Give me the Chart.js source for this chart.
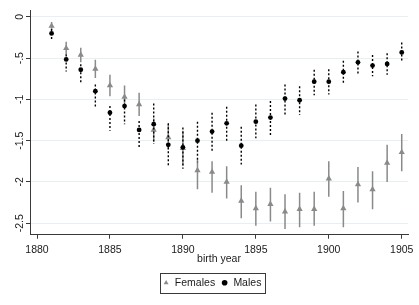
<!DOCTYPE html>
<html>
<head>
<meta charset="utf-8">
<script src="https://cdn.jsdelivr.net/npm/chart.js@4/dist/chart.umd.min.js"></script>
<style>
html,body{margin:0;padding:0;background:#fff;}
#wrap{width:419px;height:305px;}
</style>
</head>
<body>
<div id="wrap"><canvas id="c" width="419" height="305"></canvas></div>
<script>
// ---- data ----
const years = [1881,1882,1883,1884,1885,1886,1887,1888,1889,1890,1891,1892,1893,1894,1895,1896,1897,1898,1899,1900,1901,1902,1903,1904,1905];

const females   = [-0.11,-0.38,-0.46,-0.63,-0.83,-0.97,-1.06,-1.37,-1.46,-1.59,-1.86,-1.88,-2.00,-2.23,-2.32,-2.27,-2.36,-2.33,-2.33,-1.96,-2.32,-2.03,-2.09,-1.77,-1.64];
const femalesHi = [-0.06,-0.30,-0.375,-0.52,-0.70,-0.83,-0.92,-1.23,-1.30,-1.38,-1.73,-1.75,-1.81,-2.04,-2.12,-2.07,-2.15,-2.13,-2.12,-1.75,-2.11,-1.82,-1.87,-1.55,-1.42];
const femalesLo = [-0.16,-0.46,-0.55,-0.74,-0.96,-1.11,-1.20,-1.51,-1.61,-1.80,-2.09,-2.13,-2.20,-2.44,-2.53,-2.48,-2.57,-2.55,-2.53,-2.18,-2.55,-2.25,-2.33,-2.00,-1.87];

const males   = [-0.20,-0.515,-0.64,-0.90,-1.16,-1.08,-1.37,-1.30,-1.55,-1.58,-1.50,-1.39,-1.29,-1.56,-1.27,-1.22,-0.99,-1.01,-0.785,-0.785,-0.67,-0.55,-0.59,-0.57,-0.43];
const malesHi = [-0.145,-0.455,-0.575,-0.82,-1.08,-1.00,-1.26,-1.05,-1.29,-1.34,-1.27,-1.16,-1.09,-1.33,-1.06,-1.02,-0.82,-0.84,-0.64,-0.635,-0.53,-0.42,-0.46,-0.44,-0.31];
const malesLo = [-0.28,-0.66,-0.805,-1.09,-1.38,-1.30,-1.60,-1.54,-1.81,-1.84,-1.76,-1.64,-1.51,-1.79,-1.47,-1.43,-1.19,-1.19,-0.95,-0.94,-0.81,-0.70,-0.72,-0.70,-0.55];

const xTicks = [1880,1885,1890,1895,1900,1905];
const yTicks = [0,-0.5,-1,-1.5,-2,-2.5];
const yTickLabels = ['0','-.5','-1','-1.5','-2','-2.5'];
const seriesNames = ['Females','Males'];
const xTitle = 'birth year';

// ---- styles ----
const FONT = "'Liberation Sans', Arial, sans-serif";
const TEXT = '#1a1a1a';
const AXIS = '#3a3a3a';
const GRID = '#e6eff1';
const FEM = '#8a8a8a';
const MAL = '#000000';

const toPts = (vals) => years.map((yr, i) => ({x: yr, y: vals[i]}));

const errorBars = {
  id: 'errorBars',
  beforeDatasetDraw(chart, args) {
    const ds = chart.data.datasets[args.index];
    if (!ds.ciLo) return;
    const {ctx} = chart;
    const xs = chart.scales.x, ys = chart.scales.y;
    ctx.save();
    ctx.strokeStyle = ds.ciColor;
    ctx.lineWidth = ds.ciWidth;
    ctx.setLineDash(ds.ciDash);
    ctx.beginPath();
    years.forEach((yr, i) => {
      const px = xs.getPixelForValue(yr);
      ctx.moveTo(px, ys.getPixelForValue(ds.ciHi[i]));
      ctx.lineTo(px, ys.getPixelForValue(ds.ciLo[i]));
    });
    ctx.stroke();
    ctx.restore();
  }
};

const yLabels = {
  id: 'yLabels',
  afterDraw(chart) {
    const {ctx} = chart;
    const ys = chart.scales.y;
    ctx.save();
    ctx.font = "10.5px " + FONT;
    ctx.fillStyle = TEXT;
    ctx.textAlign = 'center';
    ctx.textBaseline = 'middle';
    yTicks.forEach((v, i) => {
      const py = ys.getPixelForValue(v);
      ctx.save();
      ctx.translate(20, py);
      ctx.rotate(-Math.PI / 2);
      ctx.fillText(yTickLabels[i], 0, 0);
      ctx.restore();
    });
    ctx.restore();
  }
};

const legendBox = {
  id: 'legendBox',
  afterDraw(chart) {
    const hb = chart.legend && chart.legend.legendHitBoxes;
    if (!hb || !hb.length) return;
    let left = Infinity, right = -Infinity;
    hb.forEach(h => { left = Math.min(left, h.left); right = Math.max(right, h.left + h.width); });
    left -= 3; right += 3;
    const top = hb[0].top - 4.5;
    const bottom = hb[0].top + hb[0].height + 4.5;
    const {ctx} = chart;
    ctx.save();
    ctx.strokeStyle = AXIS;
    ctx.lineWidth = 1;
    ctx.strokeRect(Math.round(left) + 0.5, Math.round(top) + 0.5, Math.round(right - left), Math.round(bottom - top));
    ctx.restore();
  }
};

new Chart(document.getElementById('c'), {
  type: 'scatter',
  data: {
    datasets: [
      {
        label: seriesNames[0],
        data: toPts(females),
        ciHi: femalesHi, ciLo: femalesLo,
        ciColor: FEM, ciWidth: 1.5, ciDash: [],
        pointStyle: 'triangle',
        pointRadius: 3.6,
        backgroundColor: FEM,
        borderColor: FEM,
        borderWidth: 0,
        order: 1
      },
      {
        label: seriesNames[1],
        data: toPts(males),
        ciHi: malesHi, ciLo: malesLo,
        ciColor: MAL, ciWidth: 1.4, ciDash: [2, 2],
        pointStyle: 'circle',
        pointRadius: 2.4,
        backgroundColor: MAL,
        borderColor: MAL,
        borderWidth: 0,
        order: 0
      }
    ]
  },
  options: {
    responsive: false,
    devicePixelRatio: 1,
    animation: false,
    events: [],
    layout: { padding: { left: 16, right: 11, top: 10, bottom: 7 } },
    plugins: {
      tooltip: { enabled: false },
      legend: {
        position: 'bottom',
        align: 'center',
        labels: {
          usePointStyle: true,
          boxWidth: 7,
          boxHeight: 4,
          padding: 6,
          color: TEXT,
          font: { family: FONT, size: 10.5 },
          sort: (a, b) => a.datasetIndex - b.datasetIndex
        }
      }
    },
    scales: {
      x: {
        type: 'linear',
        min: 1879.52,
        max: 1905.43,
        afterBuildTicks: (s) => { s.ticks = xTicks.map(v => ({value: v})); },
        afterFit: (s) => { s.height = 36.75; },
        ticks: {
          color: TEXT,
          padding: 5,
          maxRotation: 0,
          font: { family: FONT, size: 10.5 },
          callback: (v) => String(v)
        },
        grid: {
          display: true,
          drawOnChartArea: false,
          drawTicks: true,
          tickLength: 4,
          tickColor: AXIS,
          tickWidth: 1
        },
        border: { display: true, color: AXIS, width: 1 },
        title: {
          display: true,
          text: xTitle,
          color: TEXT,
          font: { family: FONT, size: 10.5 },
          padding: { top: 0, bottom: 6.5 }
        }
      },
      y: {
        type: 'linear',
        min: -2.64,
        max: 0.084,
        afterBuildTicks: (s) => { s.ticks = yTicks.map(v => ({value: v})); },
        afterFit: (s) => { s.width = 14; },
        ticks: { display: false },
        grid: {
          display: true,
          drawOnChartArea: true,
          drawTicks: true,
          tickLength: 4,
          color: GRID,
          lineWidth: 1,
          tickColor: AXIS,
          tickWidth: 1
        },
        border: { display: true, color: AXIS, width: 1 }
      }
    }
  },
  plugins: [errorBars, yLabels, legendBox]
});
</script>
</body>
</html>
